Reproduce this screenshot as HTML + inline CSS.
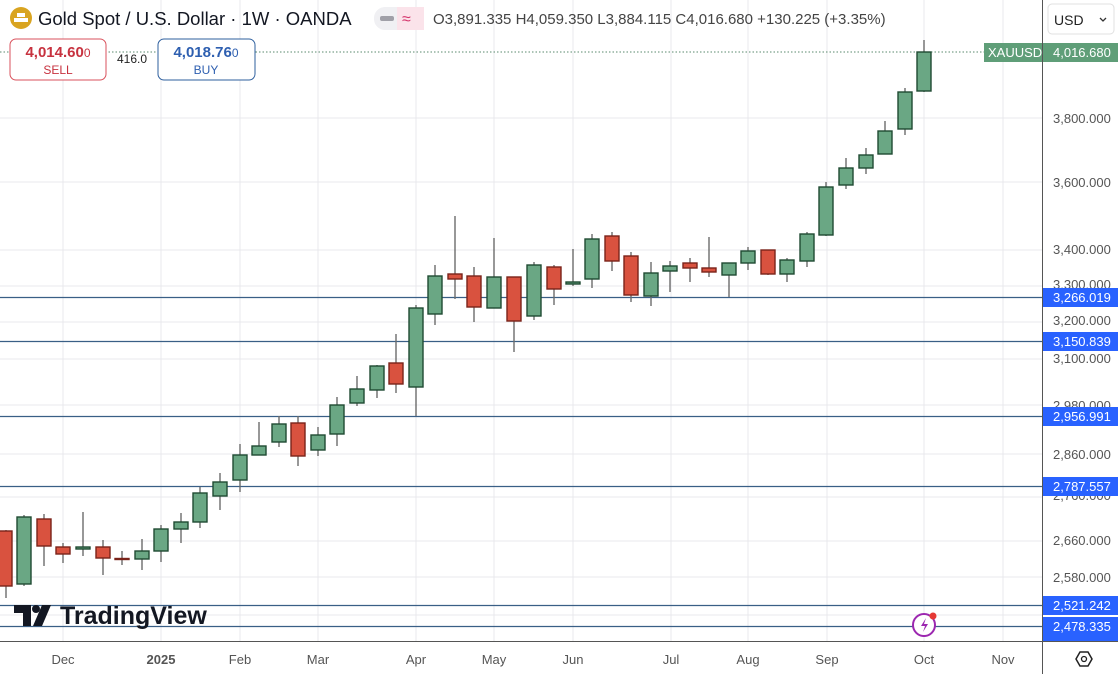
<!DOCTYPE html>
<html><head><meta charset="utf-8"><style>
html,body{margin:0;padding:0;background:#fff;}
body{width:1118px;height:674px;overflow:hidden;font-family:"Liberation Sans",sans-serif;}
</style></head><body>
<svg width="1118" height="674" xmlns="http://www.w3.org/2000/svg" font-family="Liberation Sans, sans-serif">
<rect width="1118" height="674" fill="#fff"/>
<g stroke="#e8e8ec" stroke-width="1">
<line x1="63" y1="0" x2="63" y2="641"/><line x1="161" y1="0" x2="161" y2="641"/><line x1="240" y1="0" x2="240" y2="641"/><line x1="318" y1="0" x2="318" y2="641"/><line x1="416" y1="0" x2="416" y2="641"/><line x1="494" y1="0" x2="494" y2="641"/><line x1="573" y1="0" x2="573" y2="641"/><line x1="671" y1="0" x2="671" y2="641"/><line x1="748" y1="0" x2="748" y2="641"/><line x1="827" y1="0" x2="827" y2="641"/><line x1="924" y1="0" x2="924" y2="641"/><line x1="1003" y1="0" x2="1003" y2="641"/>
<line x1="0" y1="118" x2="1042" y2="118"/><line x1="0" y1="182" x2="1042" y2="182"/><line x1="0" y1="250" x2="1042" y2="250"/><line x1="0" y1="286" x2="1042" y2="286"/><line x1="0" y1="322" x2="1042" y2="322"/><line x1="0" y1="359" x2="1042" y2="359"/><line x1="0" y1="405" x2="1042" y2="405"/><line x1="0" y1="454" x2="1042" y2="454"/><line x1="0" y1="497" x2="1042" y2="497"/><line x1="0" y1="541" x2="1042" y2="541"/><line x1="0" y1="577" x2="1042" y2="577"/><line x1="0" y1="615" x2="1042" y2="615"/>
</g>
<g stroke="#3a5f86" stroke-width="1.2">
<line x1="0" y1="297.5" x2="1042" y2="297.5"/><line x1="0" y1="341.5" x2="1042" y2="341.5"/><line x1="0" y1="416.5" x2="1042" y2="416.5"/><line x1="0" y1="486.5" x2="1042" y2="486.5"/><line x1="0" y1="605.5" x2="1042" y2="605.5"/><line x1="0" y1="626.5" x2="1042" y2="626.5"/>
</g>
<line x1="0" y1="52" x2="1042" y2="52" stroke="#5a8a6e" stroke-dasharray="1.5,2" stroke-width="1"/>
<g stroke-width="1.4">
<g stroke="#6b6b6b"><line x1="6" y1="530" x2="6" y2="598"/><line x1="24" y1="515" x2="24" y2="586"/><line x1="44" y1="514" x2="44" y2="566"/><line x1="63" y1="543" x2="63" y2="563"/><line x1="83" y1="512" x2="83" y2="556"/><line x1="103" y1="540" x2="103" y2="575"/><line x1="122" y1="551" x2="122" y2="565"/><line x1="142" y1="539" x2="142" y2="570"/><line x1="161" y1="525" x2="161" y2="562"/><line x1="181" y1="513" x2="181" y2="543"/><line x1="200" y1="487" x2="200" y2="528"/><line x1="220" y1="473" x2="220" y2="510"/><line x1="240" y1="444" x2="240" y2="492"/><line x1="259" y1="422" x2="259" y2="455"/><line x1="279" y1="416" x2="279" y2="447"/><line x1="298" y1="416" x2="298" y2="466"/><line x1="318" y1="427" x2="318" y2="456"/><line x1="337" y1="397" x2="337" y2="446"/><line x1="357" y1="376" x2="357" y2="406"/><line x1="377" y1="365" x2="377" y2="398"/><line x1="396" y1="334" x2="396" y2="393"/><line x1="416" y1="305" x2="416" y2="416"/><line x1="435" y1="265" x2="435" y2="325"/><line x1="455" y1="216" x2="455" y2="299"/><line x1="474" y1="267" x2="474" y2="322"/><line x1="494" y1="238" x2="494" y2="308"/><line x1="514" y1="277" x2="514" y2="352"/><line x1="534" y1="262" x2="534" y2="320"/><line x1="554" y1="265" x2="554" y2="305"/><line x1="573" y1="249" x2="573" y2="286"/><line x1="592" y1="234" x2="592" y2="288"/><line x1="612" y1="232" x2="612" y2="271"/><line x1="631" y1="252" x2="631" y2="302"/><line x1="651" y1="262" x2="651" y2="306"/><line x1="670" y1="261" x2="670" y2="292"/><line x1="690" y1="258" x2="690" y2="282"/><line x1="709" y1="237" x2="709" y2="277"/><line x1="729" y1="263" x2="729" y2="297"/><line x1="748" y1="247" x2="748" y2="270"/><line x1="768" y1="250" x2="768" y2="275"/><line x1="787" y1="258" x2="787" y2="282"/><line x1="807" y1="232" x2="807" y2="267"/><line x1="826" y1="182" x2="826" y2="236"/><line x1="846" y1="158" x2="846" y2="189"/><line x1="866" y1="148" x2="866" y2="174"/><line x1="885" y1="121" x2="885" y2="154"/><line x1="905" y1="88" x2="905" y2="135"/><line x1="924" y1="40" x2="924" y2="92"/></g>
<g fill="#d9523f" stroke="#7a231a"><rect x="-1" y="531" width="13" height="55"/><rect x="37" y="519" width="14" height="27"/><rect x="56" y="547" width="14" height="7"/><rect x="96" y="547" width="14" height="11"/><rect x="115" y="558.5" width="14" height="1"/><rect x="291" y="423" width="14" height="33"/><rect x="389" y="363" width="14" height="21"/><rect x="448" y="274" width="14" height="5"/><rect x="467" y="276" width="14" height="31"/><rect x="507" y="277" width="14" height="44"/><rect x="547" y="267" width="14" height="22"/><rect x="605" y="236" width="14" height="25"/><rect x="624" y="256" width="14" height="39"/><rect x="683" y="263" width="14" height="5"/><rect x="702" y="268" width="14" height="4"/><rect x="761" y="250" width="14" height="24"/></g>
<g fill="#6aa784" stroke="#1f4a32"><rect x="17" y="517" width="14" height="67"/><rect x="76" y="547" width="14" height="2"/><rect x="135" y="551" width="14" height="8"/><rect x="154" y="529" width="14" height="22"/><rect x="174" y="522" width="14" height="7"/><rect x="193" y="493" width="14" height="29"/><rect x="213" y="482" width="14" height="14"/><rect x="233" y="455" width="14" height="25"/><rect x="252" y="446" width="14" height="9"/><rect x="272" y="424" width="14" height="18"/><rect x="311" y="435" width="14" height="15"/><rect x="330" y="405" width="14" height="29"/><rect x="350" y="389" width="14" height="14"/><rect x="370" y="366" width="14" height="24"/><rect x="409" y="308" width="14" height="79"/><rect x="428" y="276" width="14" height="38"/><rect x="487" y="277" width="14" height="31"/><rect x="527" y="265" width="14" height="51"/><rect x="566" y="282" width="14" height="2"/><rect x="585" y="239" width="14" height="40"/><rect x="644" y="273" width="14" height="23"/><rect x="663" y="266" width="14" height="5"/><rect x="722" y="263" width="14" height="12"/><rect x="741" y="251" width="14" height="12"/><rect x="780" y="260" width="14" height="14"/><rect x="800" y="234" width="14" height="27"/><rect x="819" y="187" width="14" height="48"/><rect x="839" y="168" width="14" height="17"/><rect x="859" y="155" width="14" height="13"/><rect x="878" y="131" width="14" height="23"/><rect x="898" y="92" width="14" height="37"/><rect x="917" y="52" width="14" height="39"/></g>
</g>
<rect x="1042" y="0" width="76" height="674" fill="#fff"/>
<rect x="0" y="641" width="1118" height="33" fill="#fff"/>
<line x1="1042.5" y1="0" x2="1042.5" y2="674" stroke="#555" stroke-width="1"/>
<line x1="0" y1="641.5" x2="1118" y2="641.5" stroke="#555" stroke-width="1"/>
<g font-size="13" fill="#555">
<text x="1053" y="123">3,800.000</text><text x="1053" y="187">3,600.000</text><text x="1053" y="254">3,400.000</text><text x="1053" y="289">3,300.000</text><text x="1053" y="325">3,200.000</text><text x="1053" y="363">3,100.000</text><text x="1053" y="410">2,980.000</text><text x="1053" y="459">2,860.000</text><text x="1053" y="500">2,760.000</text><text x="1053" y="545">2,660.000</text><text x="1053" y="582">2,580.000</text>
</g>
<g font-size="13" fill="#fff">
<rect x="1043" y="288" width="75" height="19" fill="#2962ff"/><text x="1053" y="302">3,266.019</text>
<rect x="1043" y="332" width="75" height="19" fill="#2962ff"/><text x="1053" y="346">3,150.839</text>
<rect x="1043" y="407" width="75" height="19" fill="#2962ff"/><text x="1053" y="421">2,956.991</text>
<rect x="1043" y="477" width="75" height="19" fill="#2962ff"/><text x="1053" y="491">2,787.557</text>
<rect x="1043" y="596" width="75" height="19" fill="#2962ff"/><text x="1053" y="610">2,521.242</text>
<rect x="1043" y="617" width="75" height="24" fill="#2962ff"/><text x="1053" y="631">2,478.335</text>
<rect x="1043" y="43" width="75" height="19" fill="#5f9e78"/><text x="1053" y="57">4,016.680</text>
<rect x="984" y="43" width="58" height="19" fill="#5f9e78"/><text x="988" y="57">XAUUSD</text>
</g>
<rect x="1048" y="4" width="66" height="30" rx="4" fill="#fff" stroke="#e0e0e0"/>
<text x="1054" y="25" font-size="14" fill="#222">USD</text>
<path d="M1100 18 l3 3 l3 -3" stroke="#333" fill="none" stroke-width="1.3"/>
<g font-size="13" fill="#555" text-anchor="middle">
<text x="63" y="664">Dec</text><text x="161" y="664" font-weight="bold">2025</text><text x="240" y="664">Feb</text><text x="318" y="664">Mar</text><text x="416" y="664">Apr</text><text x="494" y="664">May</text><text x="573" y="664">Jun</text><text x="671" y="664">Jul</text><text x="748" y="664">Aug</text><text x="827" y="664">Sep</text><text x="924" y="664">Oct</text><text x="1003" y="664">Nov</text>
</g>
<polygon points="1076,659 1080,652 1088,652 1092,659 1088,666 1080,666" fill="none" stroke="#222" stroke-width="1.5"/>
<circle cx="1084" cy="659" r="2.5" fill="none" stroke="#222" stroke-width="1.3"/>
<circle cx="21" cy="18" r="11" fill="#d9a420"/>
<rect x="14" y="18" width="14" height="4" fill="#fff"/><rect x="17" y="13" width="8" height="4" fill="#fff"/>
<text x="38" y="25" font-size="18.5" fill="#131722">Gold Spot / U.S. Dollar · 1W · OANDA</text>
<rect x="374" y="7" width="50" height="23" rx="11" fill="#f0f0f3"/>
<rect x="380" y="16" width="14" height="5" rx="2" fill="#a0a0a8"/>
<rect x="397" y="7" width="27" height="23" fill="#fbe3ea"/>
<text x="402" y="24" font-size="16" fill="#d5336b">≈</text>
<text x="433" y="24" font-size="15" fill="#444">O3,891.335 H4,059.350 L3,884.115 C4,016.680 +130.225 (+3.35%)</text>
<rect x="10" y="39" width="96" height="41" rx="6" fill="#fff" stroke="#d9525c"/>
<text x="58" y="57" font-size="15" fill="#c7323f" text-anchor="middle" font-weight="bold">4,014.60<tspan font-size="12" font-weight="normal">0</tspan></text>
<text x="58" y="74" font-size="12" fill="#c7323f" text-anchor="middle">SELL</text>
<text x="117" y="63" font-size="12" fill="#222">416.0</text>
<rect x="158" y="39" width="97" height="41" rx="6" fill="#fff" stroke="#2e5f9e"/>
<text x="206" y="57" font-size="15" fill="#2e5fb0" text-anchor="middle" font-weight="bold">4,018.76<tspan font-size="12" font-weight="normal">0</tspan></text>
<text x="206" y="74" font-size="12" fill="#2e5fb0" text-anchor="middle">BUY</text>
<path d="M14 605 h17 v21 h-8 v-13 h-9z" fill="#131722"/><circle cx="36" cy="609" r="4" fill="#131722"/><path d="M42 605 h9 l-9 21 h-9z" fill="#131722"/>
<text x="60" y="624" font-size="25" font-weight="bold" fill="#131722">TradingView</text>
<circle cx="924" cy="625" r="11" fill="#fff" stroke="#9c27b0" stroke-width="2"/>
<path d="M926 618 l-5 8 h4 l-2 6 l5 -8 h-4z" fill="#9c27b0"/>
<circle cx="933" cy="616" r="3.5" fill="#e53935"/>
</svg>
</body></html>
